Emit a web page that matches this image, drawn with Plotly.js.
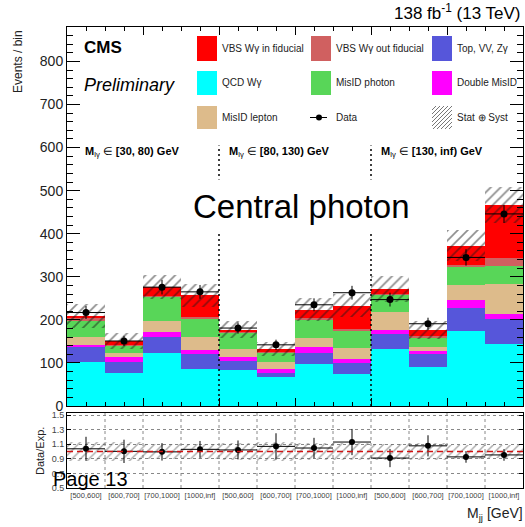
<!DOCTYPE html>
<html>
<head>
<meta charset="utf-8">
<script src="https://cdn.plot.ly/plotly-3.0.1.min.js"></script>
<style>
  html, body { margin: 0; padding: 0; background: #fff; }
  #chart { width: 525px; height: 527px; }
</style>
</head>
<body>
<div id="chart"></div>
<script>
// M_jj bin labels, repeated for the three M_lγ slices
const binLabels = [
  '[500,600]', '[600,700]', '[700,1000]', '[1000,inf]',
  '[500,600]', '[600,700]', '[700,1000]', '[1000,inf]',
  '[500,600]', '[600,700]', '[700,1000]', '[1000,inf]'
];
const massSlices = ['[30, 80) GeV', '[80, 130) GeV', '[130, inf) GeV'];

// Expected yields per bin (events), bottom of the stack first
const qcdWg      = [103, 77, 122.5, 86, 84, 68, 97.7, 74.4, 132.5, 91.5, 174.4, 144];
const topVVZg    = [33.5, 24.6, 38.5, 35, 21, 9.5, 26.3, 26.4, 35, 29.5, 54.3, 57.5];
const doubleMis  = [5.5, 11.4, 11, 9, 8, 8.5, 14, 8.2, 8.6, 7, 17, 11.5];
const misLepton  = [18, 11, 26, 30, 19.5, 15.6, 20, 26, 43, 8.5, 35, 70];
const misPhoton  = [38, 15.5, 54, 42, 36.5, 22.4, 42, 38, 37.5, 22.5, 41.4, 42.6];
const vbsOutFid  = [6, 3, 3, 5, 2, 2, 4, 5, 3, 3, 5, 17];
const vbsInFid   = [5, 8, 22, 50, 6, 6.5, 20, 54.5, 11.5, 15, 45, 124.8];

// Total stat ⊕ syst uncertainty on the expectation (events)
const expUnc     = [27, 19, 28, 27, 20, 17, 26, 27, 30, 21, 36, 42];

// Observed data
const dataCounts = [217, 151, 276, 265, 181, 142, 235, 263, 247, 191, 345, 446];
const dataErr    = [15, 12, 17, 16, 13, 12, 15, 16, 16, 14, 19, 21];
const ratioErr   = [0.165, 0.16, 0.12, 0.115, 0.13, 0.18, 0.14, 0.18, 0.125, 0.145, 0.08, 0.08];

const FONT = 'Liberation Sans, Arial, Helvetica, sans-serif';
const nb = binLabels.length;
const centers = binLabels.map((_, i) => i + 0.5);

const layers = [
  { name: 'QCD Wγ',               v: qcdWg,     color: '#00FFFF' },
  { name: 'Top, VV, Zγ',          v: topVVZg,   color: '#5656DA' },
  { name: 'Double MisID',         v: doubleMis, color: '#FF00FF' },
  { name: 'MisID lepton',         v: misLepton, color: '#DDBB8B' },
  { name: 'MisID photon',         v: misPhoton, color: '#58D658' },
  { name: 'VBS Wγ out fiducial',  v: vbsOutFid, color: '#D06060' },
  { name: 'VBS Wγ in fiducial',   v: vbsInFid,  color: '#FF0000' }
];

// cumulative tops of the stack
let cum = new Array(nb).fill(0);
const stacked = layers.map(l => {
  cum = cum.map((c, i) => c + l.v[i]);
  return Object.assign({}, l, { top: cum.slice() });
});
const total = cum;

const traces = [];
// draw tallest first so each lower layer sits in front
stacked.slice().reverse().forEach(s => {
  traces.push({
    type: 'bar', x: centers, y: s.top, width: 1, name: s.name,
    marker: { color: s.color, line: { width: 0 } },
    xaxis: 'x', yaxis: 'y', hoverinfo: 'skip', showlegend: false
  });
});

const hatch = (color, size, solidity) => ({
  color: 'rgba(0,0,0,0)', line: { width: 0 },
  pattern: { shape: '/', fgcolor: color, bgcolor: 'rgba(0,0,0,0)', size: size, solidity: solidity, fillmode: 'overlay' }
});

// uncertainty band on the expectation
traces.push({
  type: 'bar', x: centers, width: 1,
  base: total.map((t, i) => t - expUnc[i]),
  y: expUnc.map(u => 2 * u),
  marker: hatch('#1a1a1a', 7, 0.24), xaxis: 'x', yaxis: 'y', hoverinfo: 'skip', showlegend: false
});

// data points
traces.push({
  type: 'scatter', mode: 'markers', x: centers, y: dataCounts,
  marker: { color: '#000', size: 7 },
  error_x: { type: 'constant', value: 0.5, thickness: 1, width: 0, color: '#000' },
  error_y: { type: 'data', array: dataErr, thickness: 1, width: 0, color: '#000' },
  xaxis: 'x', yaxis: 'y', hoverinfo: 'skip', showlegend: false
});

// ratio panel
const relUnc = expUnc.map((u, i) => u / total[i]);
const ratio = dataCounts.map((d, i) => d / total[i]);
traces.push({
  type: 'bar', x: centers, width: 1,
  base: relUnc.map(r => 1 - r), y: relUnc.map(r => 2 * r),
  marker: hatch('#555', 6, 0.24), xaxis: 'x2', yaxis: 'y2', hoverinfo: 'skip', showlegend: false
});
traces.push({
  type: 'scatter', mode: 'markers', x: centers, y: ratio,
  marker: { color: '#000', size: 6 },
  error_x: { type: 'constant', value: 0.5, thickness: 1, width: 0, color: '#000' },
  error_y: { type: 'data', array: ratioErr, thickness: 1, width: 0, color: '#000' },
  xaxis: 'x2', yaxis: 'y2', hoverinfo: 'skip', showlegend: false
});

// pixel -> paper helper for the plot area (left 67, right 523, top 27, bottom 488)
const L = 67, R = 523, T = 27, B = 488;
const px = x => (x - L) / (R - L);
const py = y => (B - y) / (B - T);

const shapes = [];
const annotations = [];

// slice separators
[4, 8].forEach(xv => shapes.push({
  type: 'line', xref: 'x', yref: 'y', x0: xv, x1: xv, y0: 0, y1: 605,
  line: { color: '#000', width: 1.5, dash: '2px,3px' }
}));
// ratio panel grid at bin edges
for (let i = 1; i < nb; i++) {
  shapes.push({
    type: 'line', xref: 'x2', yref: 'y2', x0: i, x1: i, y0: 0.5, y1: 1.53,
    line: { color: '#888', width: 1, dash: 'dot' }, layer: 'below'
  });
}
// reference line at unity
shapes.push({
  type: 'line', xref: 'x2', yref: 'y2', x0: 0, x1: 12, y0: 1, y1: 1,
  line: { color: '#D01010', width: 1.5, dash: '6px,4px' }
});

// legend block
const legendCols = [197, 311, 432];
const legendRows = [[36, 61], [71, 95], [106, 129]];
const legendEntries = [
  [layers[6], layers[5], layers[1]],
  [layers[0], layers[4], layers[2]],
  [layers[3], 'data', 'unc']
];
const legendText = [
  ['VBS Wγ in fiducial', 'VBS Wγ out fiducial', 'Top, VV, Zγ'],
  ['QCD Wγ', 'MisID photon', 'Double MisID'],
  ['MisID lepton', 'Data', 'Stat ⊕ Syst']
];
legendEntries.forEach((row, r) => {
  const [y0, y1] = legendRows[r];
  const yc = (y0 + y1) / 2;
  row.forEach((e, c) => {
    const x0 = legendCols[c], x1 = x0 + 20;
    if (e === 'data') {
      shapes.push({ type: 'line', xref: 'paper', yref: 'paper', x0: px(x0 - 1), x1: px(x1 - 4), y0: py(yc), y1: py(yc), line: { color: '#000', width: 1 } });
      shapes.push({ type: 'circle', xref: 'paper', yref: 'paper', x0: px(x0 + 5), x1: px(x0 + 11), y0: py(yc - 3), y1: py(yc + 3), fillcolor: '#000', line: { color: '#000', width: 0 } });
    } else if (e === 'unc') {
      const w = x1 - x0, h = y1 - y0;
      let path = '';
      for (let d = -h; d < w; d += 4) {
        const sMin = Math.max(0, -d), sMax = Math.min(w - d, h);
        if (sMax <= sMin) continue;
        const ax = x0 + d + sMin, ay = y1 - sMin, bx = x0 + d + sMax, by = y1 - sMax;
        path += `M${px(ax)},${py(ay)} L${px(bx)},${py(by)} `;
      }
      shapes.push({ type: 'path', xref: 'paper', yref: 'paper', path: path, line: { color: '#777', width: 1 } });
    } else {
      shapes.push({ type: 'rect', xref: 'paper', yref: 'paper', x0: px(x0), x1: px(x1), y0: py(y1), y1: py(y0), fillcolor: e.color, line: { width: 0 } });
    }
    annotations.push({
      xref: 'paper', yref: 'paper', x: px(x1 + 3), y: py(yc), xanchor: 'left', yanchor: 'middle',
      text: legendText[r][c], showarrow: false, font: { family: FONT, size: 10, color: '#222' }
    });
  });
});

// slice labels
[83, 227, 379].forEach((x, k) => annotations.push({
  xref: 'paper', yref: 'paper', x: px(x), y: py(152), xanchor: 'left', yanchor: 'middle',
  text: '<b>M</b><sub>lγ</sub> ∈ <b>' + massSlices[k] + '</b>', showarrow: false,
  font: { family: FONT, size: 11, color: '#000' }
}));

const addText = (text, x, y, size, opts) => annotations.push(Object.assign({
  xref: 'paper', yref: 'paper', x: px(x), y: py(y), text: text, showarrow: false,
  xanchor: 'left', yanchor: 'middle', font: { family: FONT, size: size, color: '#000' }
}, opts || {}));

addText('<b>CMS</b>', 82, 48, 17);
addText('<i>Preliminary</i>', 82, 85, 18);
addText('138 fb<sup>-1</sup> (13 TeV)', 523, 12, 17, { xanchor: 'right' });
addText('Central photon', 301, 207, 33, { xanchor: 'center', bgcolor: '#fff', borderpad: 8 });
addText('Events / bin', 18, 62, 12, { xanchor: 'center', textangle: -90, font: { family: FONT, size: 12, color: '#222' } });
addText('Data/Exp.', 40, 451, 11, { xanchor: 'center', textangle: -90, font: { family: FONT, size: 11, color: '#222' } });
addText('M<sub>jj</sub> [GeV]', 525, 514, 14, { xanchor: 'right', font: { family: FONT, size: 14, color: '#222' } });
addText('Page 13', 51, 479, 20);

const layout = {
  width: 525, height: 527,
  margin: { l: L, r: 525 - R, t: T, b: 527 - B, pad: 0 },
  paper_bgcolor: '#fff', plot_bgcolor: '#fff',
  barmode: 'overlay', bargap: 0,
  showlegend: false,
  font: { family: FONT, color: '#222' },
  xaxis: {
    domain: [0, 1], anchor: 'y', range: [0, 12], showticklabels: false,
    ticks: 'inside', tick0: 0, dtick: 2, ticklen: 8, tickcolor: '#000',
    minor: { dtick: 0.5, ticklen: 4, ticks: 'inside', tickcolor: '#000' },
    mirror: 'allticks', showline: true, linecolor: '#000', linewidth: 1,
    showgrid: false, zeroline: false, fixedrange: true
  },
  yaxis: {
    domain: [(B - 406) / (B - T), 1], anchor: 'x', range: [0, 880],
    ticks: 'inside', dtick: 100, ticklen: 13, tickcolor: '#000',
    minor: { dtick: 20, ticklen: 6, ticks: 'inside', tickcolor: '#000' },
    mirror: 'allticks', showline: true, linecolor: '#000', linewidth: 1,
    tickfont: { family: FONT, size: 14, color: '#222' },
    showgrid: false, zeroline: false, fixedrange: true
  },
  xaxis2: {
    domain: [0, 1], anchor: 'y2', range: [0, 12],
    tickmode: 'array', tickvals: centers, ticktext: binLabels, ticks: '',
    tickfont: { family: FONT, size: 7.5, color: '#444' },
    mirror: true, showline: true, linecolor: '#000', linewidth: 1,
    showgrid: false, zeroline: false, fixedrange: true
  },
  yaxis2: {
    domain: [0, (B - 413) / (B - T)], anchor: 'x2', range: [0.5, 1.53],
    tickmode: 'array', tickvals: [0.5, 0.7, 0.9, 1.1, 1.3, 1.5],
    ticktext: ['0.5', '0.7', '0.9', '1.1', '1.3', '1.5'],
    ticks: 'inside', ticklen: 4, tickcolor: '#000',
    tickfont: { family: FONT, size: 9, color: '#444' },
    showgrid: true, gridcolor: '#888', gridwidth: 1, griddash: 'dot',
    mirror: 'allticks', showline: true, linecolor: '#000', linewidth: 1,
    zeroline: false, fixedrange: true
  },
  shapes: shapes,
  annotations: annotations
};

Plotly.newPlot('chart', traces, layout, { staticPlot: true, displayModeBar: false });
</script>
</body>
</html>
